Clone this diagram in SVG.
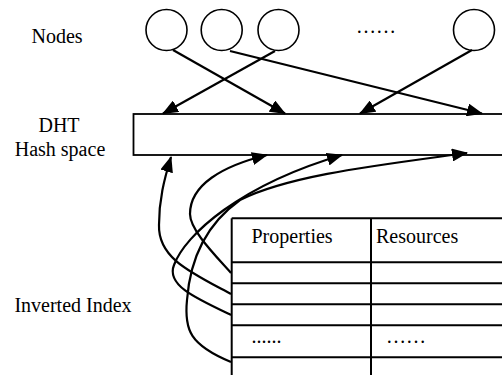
<svg xmlns="http://www.w3.org/2000/svg" width="502" height="375" viewBox="0 0 502 375">
  <style>
    text { font-family: "Liberation Serif", "Times New Roman", "DejaVu Serif", serif; font-size: 20px; fill: #000; }
    .node { fill: #fff; stroke: #000; stroke-width: 1.6; }
    .box { fill: #fff; stroke: #000; stroke-width: 1.8; }
    .grid { stroke: #000; stroke-width: 2; fill: none; }
    .edge { stroke: #000; stroke-width: 2.2; fill: none; marker-end: url(#head); }
  </style>
  <defs>
    <marker id="head" markerUnits="userSpaceOnUse" markerWidth="16" markerHeight="13" refX="15" refY="6.5" orient="auto">
      <path d="M0,0 L16,6.5 L0,13 z" fill="#000"/>
    </marker>
  </defs>

  <rect width="502" height="375" fill="#fff"/>

  <!-- row labels -->
  <text x="57" y="43" text-anchor="middle">Nodes</text>
  <text x="59" y="132" text-anchor="middle">DHT</text>
  <text x="60" y="156" text-anchor="middle">Hash space</text>
  <text x="73" y="312" text-anchor="middle">Inverted Index</text>

  <!-- peer nodes -->
  <g id="node1"><circle class="node" cx="166.5" cy="30" r="20.5"/></g>
  <g id="node2"><circle class="node" cx="221.7" cy="30" r="20.5"/></g>
  <g id="node3"><circle class="node" cx="278.5" cy="30" r="20.5"/></g>
  <g id="node-more"><text x="376" y="33" text-anchor="middle" font-size="15">……</text></g>
  <g id="node4"><circle class="node" cx="474" cy="30" r="20.5"/></g>

  <!-- DHT hash space bar -->
  <g id="dht"><rect class="box" x="133.5" y="114" width="372" height="41"/></g>

  <!-- inverted index table -->
  <g id="index">
    <line class="grid" x1="231.7" y1="218.3" x2="503" y2="218.3"/>
    <line class="grid" x1="231.7" y1="218.3" x2="231.7" y2="376"/>
    <line class="grid" x1="371" y1="218.3" x2="371" y2="376"/>
    <line class="grid" x1="231.7" y1="262.3" x2="503" y2="262.3"/>
    <line class="grid" x1="231.7" y1="283.3" x2="503" y2="283.3"/>
    <line class="grid" x1="231.7" y1="304.3" x2="503" y2="304.3"/>
    <line class="grid" x1="231.7" y1="325.3" x2="503" y2="325.3"/>
    <line class="grid" x1="231.7" y1="357.3" x2="503" y2="357.3"/>
    <text x="251.5" y="242.5">Properties</text>
    <text x="376" y="242.5">Resources</text>
    <text x="251.5" y="343" font-size="15">......</text>
    <text x="386" y="343" font-size="15">……</text>
  </g>

  <!-- connectors -->
  <g id="connectors">
    <line class="edge" x1="173" y1="50" x2="285" y2="113.5"/>
    <line class="edge" x1="275" y1="51" x2="163" y2="113.5"/>
    <line class="edge" x1="230" y1="51" x2="482" y2="113.5"/>
    <line class="edge" x1="472" y1="50" x2="360" y2="113.5"/>

    <path class="edge" d="M231,294 C190,272 158,258 159,225 C159,200 164,180 171,157"/>
    <path class="edge" d="M231,273 C215,255 190,230 190,214 C190,185 222,166 267,155"/>
    <path class="edge" d="M231,315 C195,298 166,285 174,265 C185,235 240,185 342,155"/>
    <path class="edge" d="M231,362 C190,345 184,330 187,300 C190,260 205,225 240,200 C290,175 380,165 467,153"/>
  </g>
</svg>
